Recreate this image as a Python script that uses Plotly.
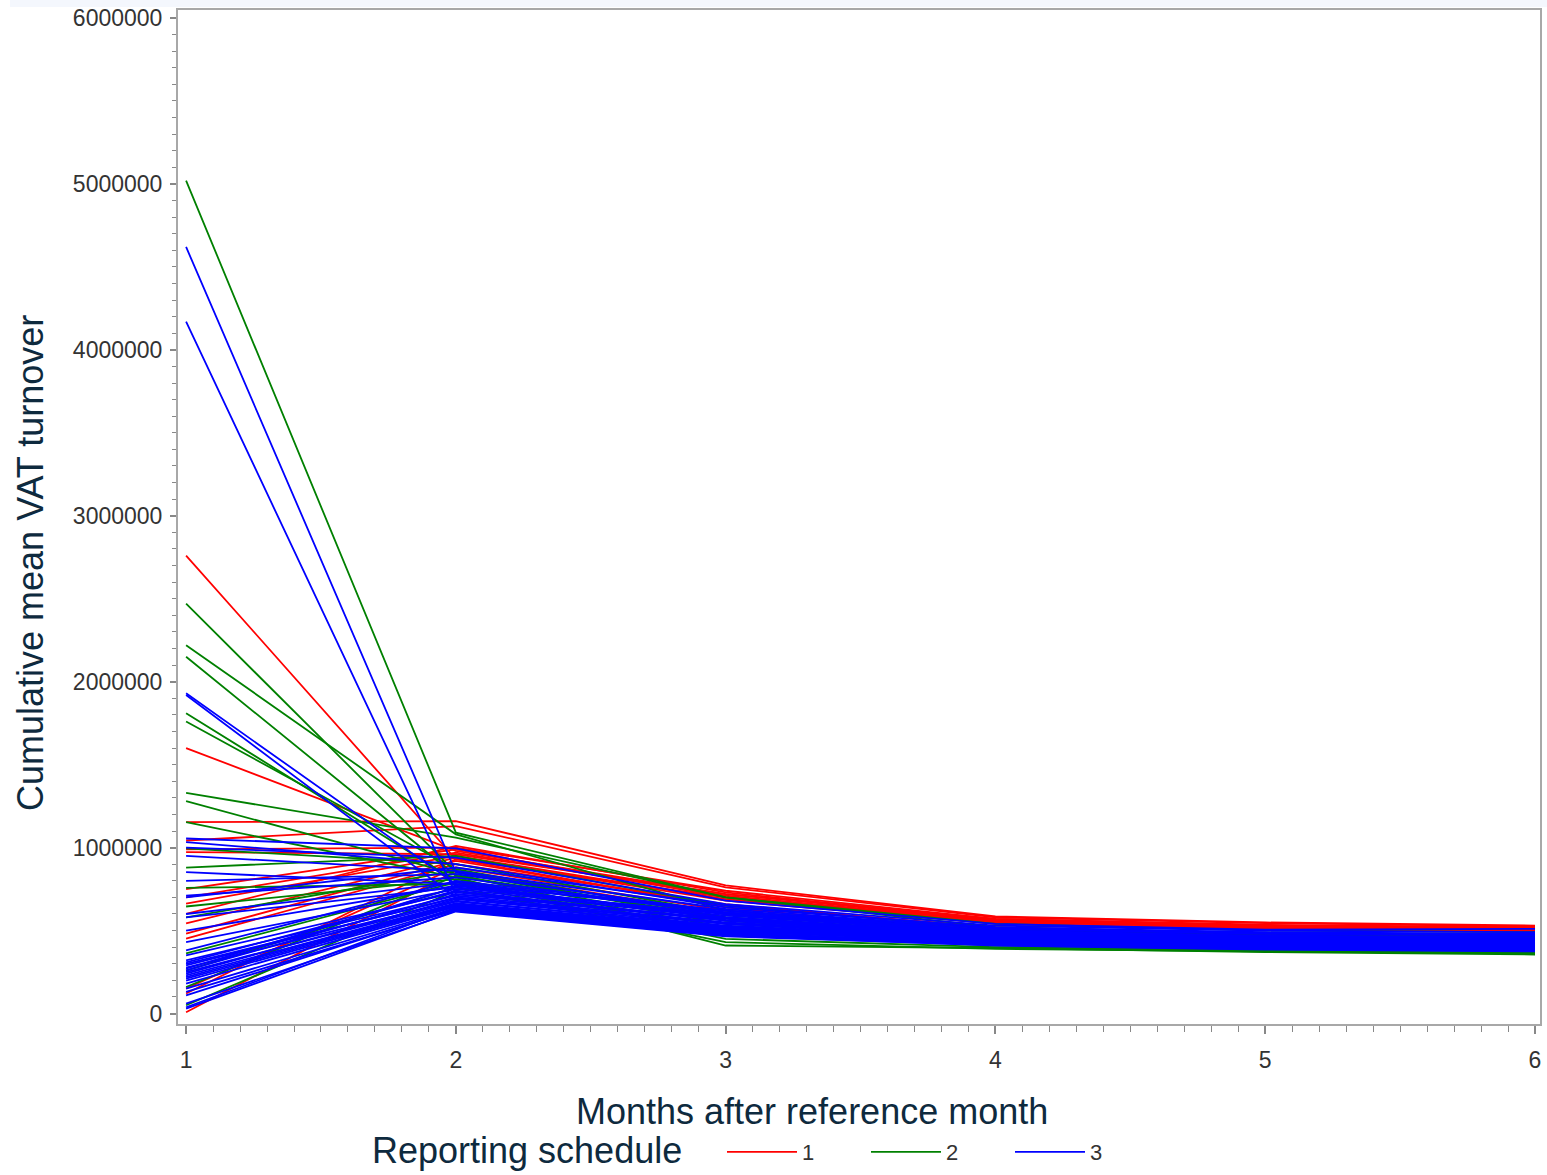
import plotly.graph_objects as go

months = [1, 2, 3, 4, 5, 6]

schedule_names = ["1", "2", "3"]
schedule_colors = ["#FF0000", "#008000", "#0000FF"]

# Reporting schedule 1 (red): cumulative mean VAT turnover, months 1..6
red_series = [
    [2760000, 930000, 700000, 560000, 520000, 500000],
    [1600000, 980000, 720000, 570000, 530000, 515000],
    [1154000, 1160000, 772000, 585000, 549000, 530000],
    [1043000, 1130000, 760000, 580000, 545000, 525000],
    [990000, 1000000, 740000, 570000, 535000, 520000],
    [973000, 960000, 720000, 560000, 525000, 510000],
    [750000, 990000, 700000, 550000, 520000, 505000],
    [663000, 950000, 690000, 540000, 510000, 495000],
    [543000, 940000, 680000, 545000, 505000, 490000],
    [482000, 920000, 650000, 520000, 480000, 470000],
    [452000, 900000, 660000, 510000, 470000, 455000],
    [151000, 880000, 620000, 500000, 450000, 440000],
    [121000, 930000, 640000, 480000, 440000, 428000],
    [8000, 860000, 600000, 490000, 460000, 450000],
    [700000, 970000, 710000, 555000, 515000, 500000],
    [600000, 1010000, 730000, 565000, 528000, 512000],
]

# Reporting schedule 2 (green)
green_series = [
    [5020000, 1090000, 700000, 520000, 480000, 470000],
    [2470000, 850000, 560000, 470000, 440000, 430000],
    [2220000, 1080000, 620000, 500000, 470000, 460000],
    [2150000, 830000, 540000, 460000, 430000, 420000],
    [1810000, 800000, 500000, 430000, 400000, 390000],
    [1760000, 870000, 580000, 480000, 450000, 440000],
    [1330000, 1060000, 700000, 540000, 500000, 490000],
    [1280000, 840000, 470000, 420000, 390000, 380000],
    [1154000, 820000, 410000, 395000, 370000, 356000],
    [995000, 900000, 600000, 490000, 460000, 450000],
    [757000, 780000, 450000, 400000, 380000, 365000],
    [645000, 810000, 520000, 440000, 410000, 400000],
    [579000, 860000, 560000, 470000, 440000, 430000],
    [362000, 790000, 490000, 410000, 385000, 375000],
    [259000, 760000, 430000, 390000, 375000, 362000],
    [160000, 830000, 580000, 460000, 420000, 410000],
    [880000, 950000, 650000, 510000, 470000, 460000],
    [50000, 740000, 480000, 420000, 395000, 385000],
]

# Reporting schedule 3 (blue)
blue_series = [
    [4620000, 850000, 600000, 480000, 440000, 430000],
    [4170000, 720000, 560000, 460000, 420000, 410000],
    [1930000, 780000, 580000, 470000, 430000, 420000],
    [1920000, 700000, 540000, 450000, 420000, 405000],
    [1055000, 995000, 680000, 540000, 505000, 510000],
    [1033000, 900000, 640000, 520000, 490000, 480000],
    [852000, 780000, 620000, 500000, 470000, 460000],
    [711000, 820000, 600000, 490000, 460000, 450000],
    [579000, 760000, 580000, 480000, 450000, 440000],
    [380000, 800000, 620000, 510000, 480000, 470000],
    [308000, 740000, 560000, 470000, 440000, 430000],
    [290000, 700000, 540000, 460000, 430000, 420000],
    [277000, 680000, 520000, 450000, 420000, 410000],
    [260000, 720000, 570000, 475000, 445000, 435000],
    [241000, 690000, 530000, 455000, 425000, 415000],
    [220000, 660000, 510000, 440000, 410000, 400000],
    [199000, 650000, 500000, 435000, 405000, 395000],
    [109000, 630000, 480000, 430000, 400000, 390000],
    [38000, 640000, 490000, 420000, 395000, 385000],
    [30000, 620000, 470000, 410000, 385000, 375000],
    [1000000, 940000, 660000, 530000, 500000, 490000],
    [950000, 860000, 630000, 510000, 480000, 475000],
    [600000, 790000, 610000, 500000, 465000, 455000],
    [500000, 770000, 590000, 485000, 455000, 445000],
    [430000, 750000, 575000, 475000, 448000, 438000],
    [350000, 730000, 565000, 468000, 438000, 428000],
    [320000, 710000, 550000, 462000, 432000, 422000],
    [300000, 695000, 545000, 458000, 428000, 418000],
    [250000, 675000, 525000, 448000, 418000, 408000],
    [230000, 665000, 515000, 444000, 412000, 402000],
    [210000, 655000, 505000, 438000, 408000, 398000],
    [180000, 645000, 495000, 432000, 402000, 392000],
    [150000, 635000, 485000, 425000, 398000, 388000],
    [130000, 625000, 475000, 418000, 392000, 382000],
    [60000, 615000, 465000, 412000, 388000, 378000],
    [700000, 880000, 650000, 515000, 485000, 478000],
    [800000, 840000, 610000, 495000, 468000, 458000],
    [270000, 760000, 600000, 488000, 458000, 448000],
]

y_ticks = [0, 1000000, 2000000, 3000000, 4000000, 5000000, 6000000]
y_ticktext = ["0", "1000000", "2000000", "3000000", "4000000", "5000000", "6000000"]

title_color = "#0E2A3E"
tick_color = "#333333"
axis_gray = "#A8A8A8"
FONT = "Arial, 'Liberation Sans', sans-serif"

# the page body margin is removed (see post_script), so the figure fills the window
W, H = 1547, 1175
ML, MR, MT, MB = 178, 7, 10, 151
PW, PH = W - ML - MR, H - MT - MB
PLOT_L, PLOT_B = ML, H - MB  # pixels of plot area's left and bottom edges

fig = go.Figure()
for name, color, group in zip(schedule_names, schedule_colors,
                              [red_series, green_series, blue_series]):
    for i, vals in enumerate(group):
        fig.add_trace(go.Scatter(
            x=months, y=vals, mode="lines",
            line=dict(color=color, width=1.8),
            name=name, legendgroup=name, showlegend=(i == 0),
            hoverinfo="skip",
        ))

fig.update_layout(
    width=W, height=H,
    margin=dict(l=ML, r=MR, t=MT, b=MB, autoexpand=False),
    paper_bgcolor="white", plot_bgcolor="white",
    font=dict(family=FONT, color=tick_color),
    showlegend=True,
    legend=dict(
        orientation="h", x=(722 - PLOT_L) / PW, xanchor="left",
        y=-(MB - 2) / PH, yanchor="bottom",
        font=dict(size=22, color=tick_color, family=FONT),
        itemwidth=70, entrywidth=59, tracegroupgap=0,
        bgcolor="rgba(0,0,0,0)",
    ),
    annotations=[
        dict(text="Reporting schedule", xref="paper", yref="paper",
             x=(527 - PLOT_L) / PW, y=-(1150 - PLOT_B) / PH,
             xanchor="center", yanchor="middle", showarrow=False,
             font=dict(size=36, color=title_color, family=FONT)),
        dict(text="Months after reference month", xref="paper", yref="paper",
             x=(812 - PLOT_L) / PW, y=-(1111 - PLOT_B) / PH,
             xanchor="center", yanchor="middle", showarrow=False,
             font=dict(size=36, color=title_color, family=FONT)),
        dict(text="Cumulative mean VAT turnover", xref="paper", yref="paper",
             x=-(PLOT_L - 30) / PW, y=(PLOT_B - 563) / PH, textangle=-90,
             xanchor="center", yanchor="middle", showarrow=False,
             font=dict(size=36, color=title_color, family=FONT)),
    ],
    shapes=[
        dict(type="rect", xref="paper", yref="paper", layer="below",
             x0=-(PLOT_L - 10) / PW, x1=(W - PLOT_L) / PW,
             y0=1 + 3 / PH, y1=1 + MT / PH,
             fillcolor="#F4F7FD", line=dict(width=0)),
    ],
)

fig.update_xaxes(
    range=[0.97, 6.0185], tickmode="array", tickvals=months,
    ticktext=[str(m) for m in months], automargin=False,
    showgrid=False, zeroline=False,
    showline=True, linecolor=axis_gray, linewidth=2, mirror=True,
    ticks="outside", ticklen=8, tickwidth=1.5, tickcolor="#888888",
    ticklabelstandoff=6, ticklabeloverflow="allow",
    tickfont=dict(size=23, color=tick_color, family=FONT),
    minor=dict(dtick=0.1, tick0=1, ticks="outside", ticklen=6,
               tickwidth=1.2, tickcolor="#888888", showgrid=False),
)
fig.update_yaxes(
    range=[-63000, 6048000], tickmode="array", tickvals=y_ticks,
    ticktext=y_ticktext, automargin=False,
    showgrid=False, zeroline=False,
    showline=True, linecolor=axis_gray, linewidth=2, mirror=True,
    ticks="outside", ticklen=6, tickwidth=1.5, tickcolor="#888888",
    ticklabelstandoff=3, ticklabeloverflow="allow",
    tickfont=dict(size=23, color=tick_color, family=FONT),
    minor=dict(dtick=100000, tick0=0, ticks="outside", ticklen=4,
               tickwidth=1.2, tickcolor="#888888", showgrid=False),
)

fig.write_html(
    "out.html",
    config={"displayModeBar": False},
    post_script="document.body.style.margin='0';"
                "document.documentElement.style.overflow='hidden';",
)
